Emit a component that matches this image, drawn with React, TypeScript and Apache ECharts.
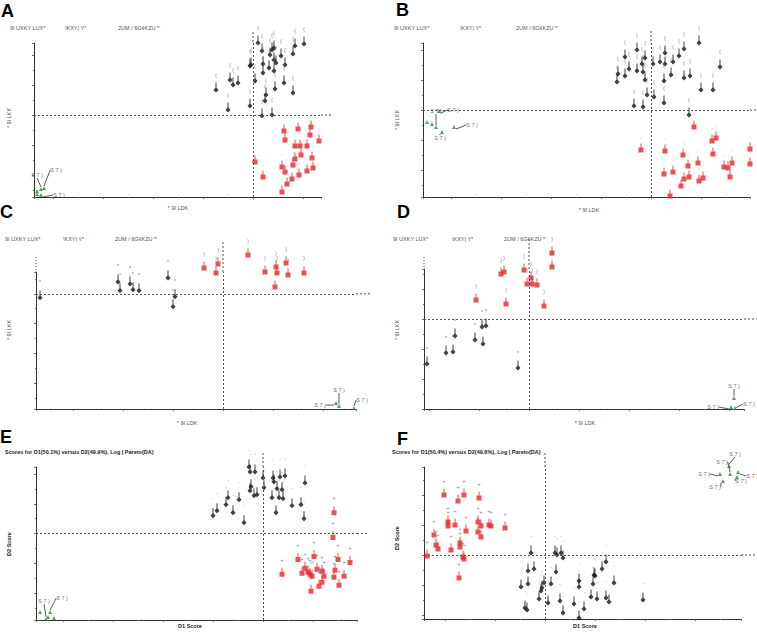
import React, { useEffect, useRef } from 'react';
import * as echarts from 'echarts';

// ---------- data (score units) ----------
const blackA = [[0.5,7.2],[4.2,6.9],[5.1,7.1],[0.9,6.4],[2.1,6.7],[1.9,6.5],[4.0,6.1],[1.7,6.0],[2.8,5.9],[2.1,5.5],[-0.2,5.0],[1.0,5.1],[2.3,5.2],[3.2,5.0],[-0.3,4.9],[1.6,4.7],[2.1,4.4],[1.0,4.2],[-2.3,3.5],[-1.5,3.2],[-2.0,3.0],[-3.7,2.5],[0.2,3.4],[3.1,3.2],[2.2,2.6],[4.0,2.2],[1.3,2.0],[1.2,1.4],[-0.3,0.9],[-2.5,0.5],[0.9,-0.1],[1.9,0.0]];
const redA = [[4.5,-1.4],[5.8,-1.2],[3.1,-1.6],[5.7,-2.0],[3.2,-2.5],[6.6,-2.6],[4.2,-3.1],[4.7,-3.1],[5.4,-3.1],[4.8,-4.0],[5.9,-4.3],[4.2,-4.4],[4.0,-5.0],[0.2,-4.7],[5.4,-5.6],[6.0,-5.3],[2.9,-5.2],[3.2,-5.7],[1.0,-6.2],[4.6,-6.0],[3.9,-6.4],[3.4,-6.9],[2.9,-7.7]];
const greenA = [[-21.2,-7.4],[-20.9,-7.3],[-21.2,-8.0],[-21.6,-7.6],[-21.6,-7.9]];

const blackB = [[4.8,6.7],[3.3,6.1],[-1.4,6.0],[-0.6,5.2],[1.4,5.7],[-2.6,5.3],[2.8,5.4],[0.2,4.6],[0.9,4.8],[1.4,4.6],[2.2,4.8],[-0.9,4.6],[6.9,4.3],[-2.2,4.1],[-1.4,3.9],[-0.8,3.8],[-3.3,3.6],[-2.6,3.4],[2.0,3.5],[3.3,3.2],[3.9,3.4],[-0.6,3.0],[1.3,2.9],[-3.4,2.8],[5.0,2.0],[6.2,2.0],[0.3,1.3],[-0.4,1.5],[1.3,0.7],[-1.7,0.4],[-0.8,0.3],[3.8,-0.5]];
const redB = [[4.3,-1.7],[6.1,-3.1],[6.5,-2.8],[-1.0,-4.0],[1.4,-4.1],[6.2,-4.4],[9.9,-3.9],[9.9,-5.4],[3.2,-4.5],[4.7,-5.3],[3.7,-5.6],[8.1,-5.3],[7.3,-5.7],[7.7,-5.8],[2.2,-6.2],[1.3,-6.4],[3.3,-6.9],[3.8,-6.7],[5.2,-6.8],[7.9,-6.7],[4.8,-7.1],[3.0,-7.6],[1.9,-8.6]];
const greenB = [[-21.2,-0.1],[-20.9,-2.2],[-19.7,-1.7],[-21.5,-1.7],[-22.4,-1.2],[-21.9,-1.4]];

const blackC = [[-18.3,-0.4],[-10.5,1.2],[-9.3,1.0],[-10.3,0.3],[-9.0,0.4],[-8.4,0.3],[-5.5,1.6],[-4.8,-0.3],[-5.0,-1.3]];
const redC = [[2.5,3.9],[-1.9,2.6],[-0.5,3.0],[-0.7,2.1],[4.2,2.2],[5.3,2.7],[5.4,2.1],[6.3,3.1],[6.5,1.9],[8.1,2.1],[5.2,0.7]];
const greenC = [[11.3,-11.0],[11.6,-11.3],[13.1,-11.5]];

const blackD = [[-10.2,-4.5],[-8.3,-3.4],[-7.6,-3.3],[-7.4,-1.7],[-5.4,-2.1],[-4.7,-0.8],[-4.3,-0.7],[-4.6,-2.5],[-1.1,-4.9]];
const redD = [[2.3,6.6],[2.3,5.2],[-0.5,4.9],[-2.8,4.5],[-2.5,4.7],[0.2,4.1],[-0.2,3.5],[0.3,3.5],[0.8,3.4],[-5.3,1.9],[-2.3,1.5],[1.5,1.3]];
const greenD = [[20.5,-7.9],[20.2,-8.8],[20.6,-8.9]];

const blackE = [[-1.4,6.7],[-1.3,6.2],[-0.8,6.2],[0.0,5.6],[1.0,5.6],[1.1,5.2],[1.7,5.7],[2.2,5.8],[4.2,5.1],[-1.2,4.7],[0.1,4.6],[1.4,4.5],[1.9,4.4],[-1.3,4.3],[-0.9,3.8],[-0.6,3.9],[0.9,3.6],[1.6,3.6],[2.0,3.5],[-3.5,3.6],[-2.4,3.4],[-3.7,2.9],[2.9,2.8],[3.8,2.9],[-4.6,2.3],[-3.0,2.1],[1.3,2.1],[-5.0,1.8],[4.1,1.5],[-1.9,1.1]];
const redE = [[7.1,2.1],[7.0,-0.4],[3.5,-2.6],[5.1,-2.3],[7.5,-2.6],[8.7,-2.9],[4.2,-3.5],[5.4,-3.6],[5.9,-3.8],[7.2,-3.7],[4.5,-3.9],[4.7,-4.1],[1.9,-4.1],[3.9,-4.0],[4.9,-4.3],[6.1,-4.3],[7.1,-4.4],[8.1,-4.3],[5.9,-4.9],[5.6,-5.3],[7.6,-5.2],[4.8,-5.8]];
const greenE = [[-21.7,-8.6],[-21.3,-7.9],[-22.3,-7.9],[-20.9,-8.5],[-21.5,-8.4]];

const redF = [[-10.1,6.0],[-8.1,6.0],[-8.7,5.4],[-6.6,5.7],[-9.7,3.3],[-9.7,2.9],[-9.0,3.0],[-6.7,3.3],[-6.4,2.9],[-5.6,3.0],[-5.4,2.9],[-4.0,2.7],[-11.1,2.0],[-7.9,2.4],[-6.7,2.3],[-6.4,1.8],[-10.9,1.0],[-10.7,0.6],[-9.4,0.5],[-8.5,1.2],[-8.5,0.8],[-11.8,-0.1],[-8.2,-0.2],[-8.1,-0.4],[-8.6,-2.3]];
const blackF = [[-1.4,0.2],[1.0,0.2],[1.2,0.0],[1.6,0.2],[1.8,-0.3],[6.1,-0.7],[5.7,-1.4],[-1.7,-1.6],[-1.1,-1.4],[1.1,-1.7],[4.9,-2.0],[5.0,-2.1],[3.4,-2.6],[-0.1,-2.8],[0.6,-2.9],[-1.7,-2.9],[6.9,-2.8],[4.8,-2.9],[3.4,-3.2],[-2.4,-3.2],[-0.3,-3.3],[-0.4,-3.6],[-0.6,-4.4],[1.5,-4.6],[4.6,-4.2],[5.2,-4.4],[6.1,-4.3],[6.4,-4.7],[9.8,-4.5],[0.3,-4.8],[2.9,-4.9],[3.9,-5.4],[-2.0,-5.3],[-1.8,-5.5],[1.8,-5.8],[3.4,-6.3]];
const greenF = [[17.5,8.1],[18.4,8.9],[19.3,8.3],[19.2,7.8],[17.8,7.4],[18.5,8.1]];

const panelLetters = ['A', 'B', 'C', 'D', 'E', 'F'];
const headerTexts = ['9I UXKY LUX*', '\\KXY| Y*', "2UM / 6G\u00A2KZU *'"];
const garbledY = '* 9I LKK';
const garbledX = '* 9I LDK';
const titleE = 'Scores for D1(50.1%) versus D2(49.9%), Log | Pareto(DA)';
const titleF = 'Scores for D1(50.4%) versus D2(49.6%), Log | Pareto(DA)';
const scoreX = 'D1 Score';
const scoreY = 'D2 Score';
const greenLabel = 'S 7 )';
const blackLabels = ['(', '(', '*', '*', "'", "'"];
const redLabels = [',', ',', ')', ')', '+', '+'];
const greenLabelCount = [3, 4, 3, 3, 2, 6];

const blackData = [blackA, blackB, blackC, blackD, blackE, blackF];
const redData = [redA, redB, redC, redD, redE, redF];
const greenData = [greenA, greenB, greenC, greenD, greenE, greenF];
const xRanges = [[-21.9, 6.8], [-22.8, 9.9], [-18.7, 13.3], [-10.5, 21.5], [-22.7, 9.4], [-12.1, 19.6]];
const yRanges = [[-8.2, 7.2], [-8.7, 6.7], [-11.6, 2.2], [-9.0, 5.0], [-8.7, 6.7], [-6.4, 8.8]];

// ---------- layout (pixels) ----------
const boxes = [
  { l: 34, t: 43, r: 321, b: 197, vTop: 32, hRight: 333, dotTop: 0 },
  { l: 423, t: 43, r: 750, b: 197, vTop: 31, hRight: 757, dotTop: 0 },
  { l: 36, t: 272, r: 356, b: 409, vTop: 242, hRight: 370, dotTop: 257 },
  { l: 424, t: 269, r: 744, b: 409, vTop: 239, hRight: 757, dotTop: 257 },
  { l: 36, t: 467, r: 357, b: 620, vTop: 453, hRight: 369, dotTop: 0 },
  { l: 424, t: 467, r: 741, b: 619, vTop: 453, hRight: 757, dotTop: 0 },
];
// offsets (px) of the green leader-lined labels, from the default "top" position
const greenOffsets = [
  [[-4, -8], [12, -12], [18, 6]],
  [[14, 5], [-2, 12], [18, 4], [0, -10]],
  [[-16, 8], [0, -10], [8, -2]],
  [[0, -6], [-18, 6], [14, 2]],
  [[-2, -12], [12, -8]],
  [[-16, 6], [6, -6], [14, 10], [4, 10], [-8, 12], [-8, -6]],
];
const letterPos = [[1, 2], [396, 1], [0, 203], [397, 203], [0, 428], [397, 430]];
const headerPos = [
  [[10, 25], [65, 25], [118, 25]],
  [[394, 25], [460, 25], [516, 25]],
  [[5, 236], [63, 236], [115, 236]],
  [[393, 236], [452, 236], [504, 236]],
];
const titlePos = [[5, 449], [392, 449]];
const yTitlePos = [[9, 118], [397, 120], [9, 330], [397, 330], [9, 544], [397, 538]];
const xTitlePos = [[178, 208], [589, 210], [187, 423], [585, 423], [190, 626], [585, 626]];

const FONT = 'Liberation Sans, Arial, Helvetica, sans-serif';
const BLACK_SYM = 'path://M-0.5 0 L0.5 0 L0.5 5 L2.5 7.5 L0 10 L-2.5 7.5 L-0.5 5 Z';
const RED_SYM = 'path://M-0.5 0 L0.5 0 L0.5 4 L2.5 4 L2.5 9 L-2.5 9 L-2.5 4 L-0.5 4 Z';

function textEl(x: number, y: number, text: string, size: number, opts: any = {}) {
  return {
    type: 'text',
    x, y,
    rotation: opts.rotation || 0,
    silent: true,
    style: {
      text,
      fill: opts.fill || '#444',
      font: `${opts.bold ? 'bold ' : ''}${size}px ${FONT}`,
      textAlign: opts.align || 'left',
      align: opts.align || 'left',
      textVerticalAlign: opts.valign || 'top',
      verticalAlign: opts.valign || 'top',
    },
  };
}

export default function App() {
  const ref = useRef<HTMLDivElement>(null);
  useEffect(() => {
    if (!ref.current) return;
    const chart = echarts.init(ref.current, undefined, { renderer: 'svg' });
    const grid: any[] = [];
    const xAxis: any[] = [];
    const yAxis: any[] = [];
    const series: any[] = [];
    const graphic: any[] = [];
    const dash = { stroke: '#555', lineWidth: 1, lineDash: [2, 2] };

    boxes.forEach((b, i) => {
      grid.push({ left: b.l, top: b.t, width: b.r - b.l, height: b.b - b.t });
      const axisCommon = {
        type: 'value',
        gridIndex: i,
        axisLine: { show: true, onZero: false, lineStyle: { color: '#333', width: 1 } },
        axisTick: { show: true, length: 2, lineStyle: { color: '#555', width: 0.8 } },
        minorTick: { show: true, splitNumber: 2, length: 1, lineStyle: { color: '#777' } },
        axisLabel: { show: false },
        splitLine: { show: false },
      };
      xAxis.push({ ...axisCommon, min: xRanges[i][0], max: xRanges[i][1] });
      yAxis.push({ ...axisCommon, min: yRanges[i][0], max: yRanges[i][1] });

      series.push({
        type: 'scatter', xAxisIndex: i, yAxisIndex: i, clip: false,
        data: blackData[i], symbol: BLACK_SYM, symbolSize: [5, 10], symbolOffset: [0, -2.5],
        itemStyle: { color: '#111' },
        label: { show: true, formatter: blackLabels[i], position: 'top', offset: [-3, 1], fontSize: 6, color: '#666', fontFamily: FONT },
        labelLayout: { moveOverlap: 'shiftY' },
        markLine: {
          silent: true, symbol: 'none', label: { show: false },
          lineStyle: { type: [2, 2], color: '#555', width: 1 },
          data: [{ xAxis: 0 }, { yAxis: 0 }],
        },
      });
      series.push({
        type: 'scatter', xAxisIndex: i, yAxisIndex: i, clip: false,
        data: redData[i], symbol: RED_SYM, symbolSize: [5, 9], symbolOffset: [0, -2],
        itemStyle: { color: '#e3252b' },
        label: { show: true, formatter: redLabels[i], position: 'top', offset: [3, 1], fontSize: 6, color: '#666', fontFamily: FONT },
        labelLayout: { moveOverlap: 'shiftY' },
      });
      const offs = greenOffsets[i];
      series.push({
        type: 'scatter', xAxisIndex: i, yAxisIndex: i, clip: false,
        data: greenData[i].map((v, k) => ({ value: v, label: { show: k < greenLabelCount[i] } })),
        symbol: 'triangle', symbolSize: 4,
        itemStyle: { color: '#2f8a3a' },
        label: { position: 'top', distance: 1, formatter: greenLabel, fontSize: 5.5, color: '#444', fontFamily: FONT },
        labelLayout: (p: any) => {
          const o = offs[p.dataIndex];
          return o ? { dx: o[0], dy: o[1] } : {};
        },
        labelLine: { show: true, lineStyle: { color: '#333', width: 0.8 } },
      });

      const w = b.r - b.l;
      const h = b.b - b.t;
      const ox = b.l + ((0 - xRanges[i][0]) / (xRanges[i][1] - xRanges[i][0])) * w;
      const oy = b.t + ((yRanges[i][1] - 0) / (yRanges[i][1] - yRanges[i][0])) * h;
      graphic.push({ type: 'line', silent: true, shape: { x1: ox, y1: b.vTop, x2: ox, y2: b.t }, style: dash });
      graphic.push({ type: 'line', silent: true, shape: { x1: b.r, y1: oy, x2: b.hRight, y2: oy }, style: dash });
      if (b.dotTop) {
        graphic.push({ type: 'line', silent: true, shape: { x1: b.l, y1: b.dotTop, x2: b.l, y2: b.t }, style: { stroke: '#555', lineWidth: 1, lineDash: [1, 2] } });
      }

      graphic.push(textEl(letterPos[i][0], letterPos[i][1], panelLetters[i], 18, { bold: true, fill: '#000' }));
      if (i < 4) {
        headerPos[i].forEach((p, k) => graphic.push(textEl(p[0], p[1], headerTexts[k], 5.5, { fill: '#555' })));
        graphic.push(textEl(yTitlePos[i][0], yTitlePos[i][1], garbledY, 5.5, { rotation: Math.PI / 2, align: 'center', valign: 'middle', fill: '#555' }));
        graphic.push(textEl(xTitlePos[i][0], xTitlePos[i][1], garbledX, 5.5, { align: 'center', valign: 'middle', fill: '#555' }));
      } else {
        const tp = titlePos[i - 4];
        graphic.push(textEl(tp[0], tp[1], i === 4 ? titleE : titleF, 5.5, { bold: true, fill: '#222' }));
        graphic.push(textEl(yTitlePos[i][0], yTitlePos[i][1], scoreY, 5.5, { rotation: Math.PI / 2, align: 'center', valign: 'middle', bold: true, fill: '#222' }));
        graphic.push(textEl(xTitlePos[i][0], xTitlePos[i][1], scoreX, 5.5, { align: 'center', valign: 'middle', bold: true, fill: '#222' }));
      }
    });

    chart.setOption({
      animation: false,
      backgroundColor: '#fff',
      grid, xAxis, yAxis, series, graphic,
    });
    return () => chart.dispose();
  }, []);
  return <div ref={ref} style={{ position: 'fixed', left: 0, top: 0, width: 757, height: 635 }} />;
}
